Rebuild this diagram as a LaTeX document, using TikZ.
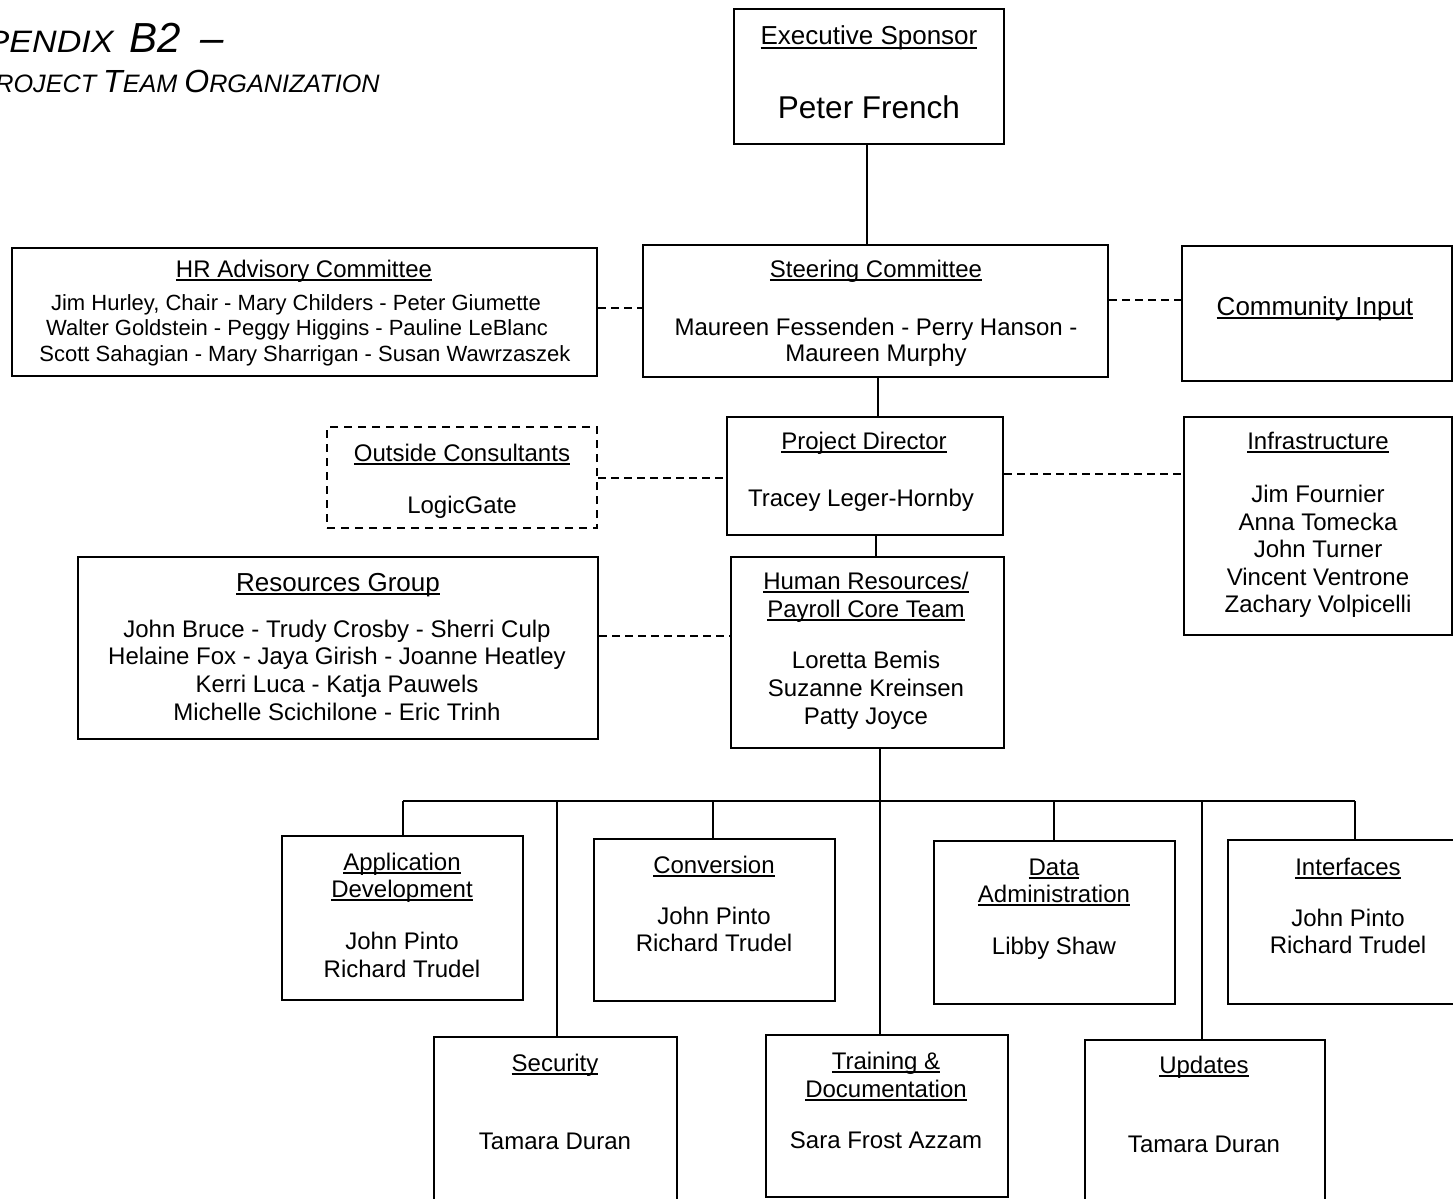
\documentclass[tikz,border=0pt]{standalone}
\usepackage{fontspec}
\setmainfont{Liberation Sans}
\newfontfamily\ttlfont{Liberation Sans}[FakeStretch=1.1]
\usetikzlibrary{fit}
\newcommand\ulx[1]{\setbox0\hbox{#1}\rlap{\rule[-2pt]{\wd0}{0.9pt}}\box0}
\newcommand\bgc{\fontsize{21}{22}\selectfont}
\newcommand\smc{\fontsize{15.5}{20}\selectfont}
\newcommand\bgd{\fontsize{16}{18}\selectfont}
\newcommand\smd{\fontsize{12.6}{18}\selectfont}
\tikzset{
  box/.style={draw, line width=1pt, inner sep=0pt},
  dbox/.style={box, dash pattern=on 4pt off 3pt},
  lbl/.style={inner sep=0pt, anchor=base, font=\fontsize{12}{14}\selectfont},
  sml/.style={lbl, font=\fontsize{11}{13}\selectfont},
  bigl/.style={lbl, font=\fontsize{13}{15}\selectfont},
  hugel/.style={lbl, font=\fontsize{15.75}{18}\selectfont},
  conn/.style={line width=1pt},
  dconn/.style={line width=1pt, dash pattern=on 4pt off 2.5pt}
}
\begin{document}
\begin{tikzpicture}[x=0.5pt,y=-0.5pt]
\useasboundingbox (0,0) rectangle (1453,1199);
\fill[white] (0,0) rectangle (1453,1199);

% title
\node[anchor=base east, inner sep=0pt, font=\ttlfont\itshape] (ttl1a) at (114,53)
  {{\fontsize{19.5}{20}\selectfont A}{\smc PPENDIX}};
\node[anchor=base west, inner sep=0pt, font=\itshape\bgc] (ttl1b) at (129,53) {B2};
\node[anchor=base west, inner sep=0pt, font=\itshape\bgc] (ttl1c) at (200,53) {–};
\node[anchor=base east, inner sep=0pt, font=\itshape] (ttl2) at (380,92)
  {{\bgd P}{\smd ROJECT }{\bgd T}{\smd EAM }{\bgd O}{\smd RGANIZATION}};

% boxes
\node[box, fit={(734,9) (1004,144)}] (exec) {};
\node[box, fit={(643,245) (1108,377)}] (steer) {};
\node[box, fit={(12,248) (597,376)}] (hradv) {};
\node[box, fit={(1182,246) (1452,381)}] (comm) {};
\node[box, fit={(727,417) (1003,535)}] (pd) {};
\node[dbox, fit={(327,427) (597,528)}] (oc) {};
\node[box, fit={(1184,417) (1452,635)}] (infra) {};
\node[box, fit={(731,557) (1004,748)}] (hrcore) {};
\node[box, fit={(78,557) (598,739)}] (res) {};
\node[box, fit={(282,836) (523,1000)}] (appdev) {};
\node[box, fit={(594,839) (835,1001)}] (conv) {};
\node[box, fit={(934,841) (1175,1004)}] (data) {};
\node[box, fit={(1228,840) (1470,1004)}] (intf) {};
\node[box, fit={(434,1037) (677,1230)}] (sec) {};
\node[box, fit={(766,1035) (1008,1197)}] (train) {};
\node[box, fit={(1085,1040) (1325,1230)}] (upd) {};

% texts
\node[bigl] (execT) at (869,45) {\ulx{Executive Sponsor}};
\node[hugel] (execN) at (869,118) {Peter French};

\node[lbl] (steerT) at (876,277) {\ulx{Steering Committee}};
\node[lbl] (steerN1) at (876,335) {Maureen Fessenden - Perry Hanson -};
\node[lbl] (steerN2) at (876,361) {Maureen Murphy};

\node[lbl] (hradvT) at (304,277) {\ulx{HR Advisory Committee}};
\node[sml] (hradvN1) at (296,310) {Jim Hurley, Chair - Mary Childers - Peter Giumette};
\node[sml] (hradvN2) at (297,335) {Walter Goldstein - Peggy Higgins - Pauline LeBlanc};
\node[sml] (hradvN3) at (305,361) {Scott Sahagian - Mary Sharrigan - Susan Wawrzaszek};

\node[bigl] (commT) at (1315,315) {\ulx{Community Input}};

\node[lbl] (pdT) at (864,449) {\ulx{Project Director}};
\node[lbl] (pdN) at (861,506) {Tracey Leger-Hornby};

\node[lbl] (ocT) at (462,461) {\ulx{Outside Consultants}};
\node[lbl] (ocN) at (462,513) {LogicGate};

\node[lbl] (infraT) at (1318,449) {\ulx{Infrastructure}};
\node[lbl] (infraN1) at (1318,502) {Jim Fournier};
\node[lbl] (infraN2) at (1318,530) {Anna Tomecka};
\node[lbl] (infraN3) at (1318,557) {John Turner};
\node[lbl] (infraN4) at (1318,585) {Vincent Ventrone};
\node[lbl] (infraN5) at (1318,612) {Zachary Volpicelli};

\node[lbl] (hrcT1) at (866,589) {\ulx{Human Resources/}};
\node[lbl] (hrcT2) at (866,617) {\ulx{Payroll Core Team}};
\node[lbl] (hrcN1) at (866,668) {Loretta Bemis};
\node[lbl] (hrcN2) at (866,696) {Suzanne Kreinsen};
\node[lbl] (hrcN3) at (866,724) {Patty Joyce};

\node[bigl] (resT) at (338,591) {\ulx{Resources Group}};
\node[lbl] (resN1) at (337,637) {John Bruce - Trudy Crosby - Sherri Culp};
\node[lbl] (resN2) at (337,664) {Helaine Fox - Jaya Girish - Joanne Heatley};
\node[lbl] (resN3) at (337,692) {Kerri Luca - Katja Pauwels};
\node[lbl] (resN4) at (337,720) {Michelle Scichilone - Eric Trinh};

\node[lbl] (appT1) at (402,870) {\ulx{Application}};
\node[lbl] (appT2) at (402,897) {\ulx{Development}};
\node[lbl] (appN1) at (402,949) {John Pinto};
\node[lbl] (appN2) at (402,977) {Richard Trudel};

\node[lbl] (convT) at (714,873) {\ulx{Conversion}};
\node[lbl] (convN1) at (714,924) {John Pinto};
\node[lbl] (convN2) at (714,951) {Richard Trudel};

\node[lbl] (dataT1) at (1054,875) {\ulx{Data}};
\node[lbl] (dataT2) at (1054,902) {\ulx{Administration}};
\node[lbl] (dataN) at (1054,954) {Libby Shaw};

\node[lbl] (intfT) at (1348,875) {\ulx{Interfaces}};
\node[lbl] (intfN1) at (1348,926) {John Pinto};
\node[lbl] (intfN2) at (1348,953) {Richard Trudel};

\node[lbl] (secT) at (555,1071) {\ulx{Security}};
\node[lbl] (secN) at (555,1149) {Tamara Duran};

\node[lbl] (trT1) at (886,1069) {\ulx{Training \&}};
\node[lbl] (trT2) at (886,1097) {\ulx{Documentation}};
\node[lbl] (trN) at (886,1148) {Sara Frost Azzam};

\node[lbl] (updT) at (1204,1073) {\ulx{Updates}};
\node[lbl] (updN) at (1204,1152) {Tamara Duran};

% connector coordinates
\coordinate (xa) at (867,0);
\coordinate (xb) at (878,0);
\coordinate (xc) at (876,0);
\coordinate (bus) at (880,801);
\coordinate (dA) at (403,801);
\coordinate (dS) at (557,801);
\coordinate (dC) at (713,801);
\coordinate (dD) at (1054,801);
\coordinate (dU) at (1202,801);
\coordinate (dI) at (1355,801);
\coordinate (ya) at (0,308);
\coordinate (yb) at (0,300);
\coordinate (yc) at (0,478);
\coordinate (yd) at (0,474);
\coordinate (ye) at (0,636);

% solid connectors
\draw[conn] (exec.south -| xa) -- (steer.north -| xa);
\draw[conn] (steer.south -| xb) -- (pd.north -| xb);
\draw[conn] (pd.south -| xc) -- (hrcore.north -| xc);
\draw[conn] (hrcore.south -| bus) -- (bus);
\draw[conn] (dA) -- (dI);
\draw[conn] (dA) -- (dA |- appdev.north);
\draw[conn] (dS) -- (dS |- sec.north);
\draw[conn] (dC) -- (dC |- conv.north);
\draw[conn] (bus) -- (bus |- train.north);
\draw[conn] (dD) -- (dD |- data.north);
\draw[conn] (dU) -- (dU |- upd.north);
\draw[conn] (dI) -- (dI |- intf.north);

% dashed connectors
\draw[dconn] (hradv.east |- ya) -- (steer.west |- ya);
\draw[dconn] (steer.east |- yb) -- (comm.west |- yb);
\draw[dconn] (oc.east |- yc) -- (pd.west |- yc);
\draw[dconn] (pd.east |- yd) -- (infra.west |- yd);
\draw[dconn] (res.east |- ye) -- (hrcore.west |- ye);
\end{tikzpicture}
\end{document}
